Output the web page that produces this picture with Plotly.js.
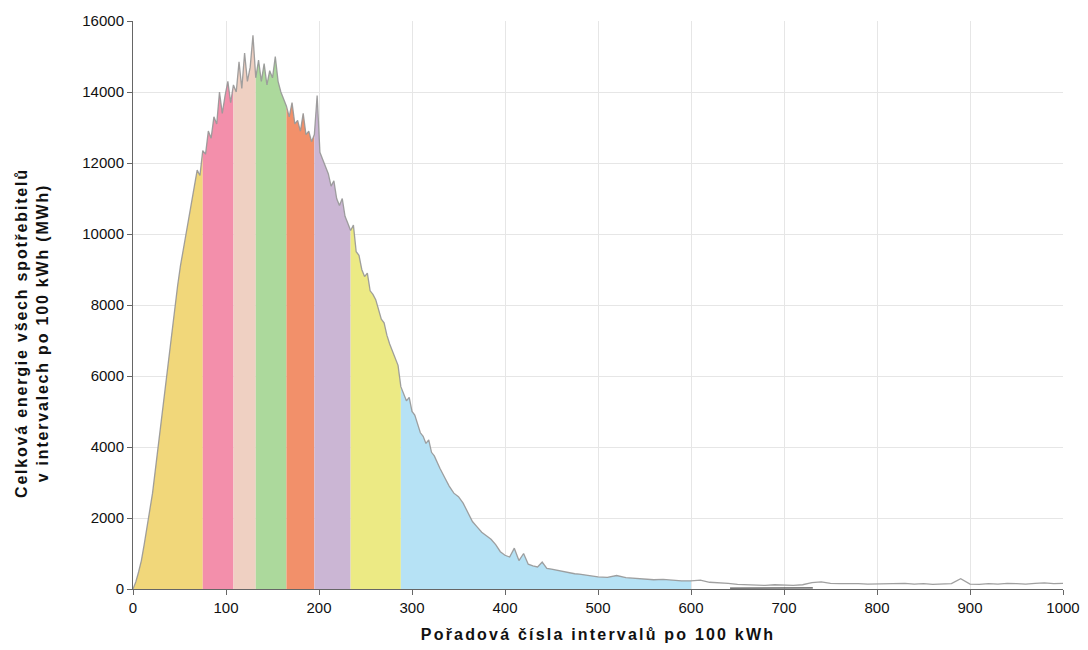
<!DOCTYPE html>
<html>
<head>
<meta charset="utf-8">
<script src="https://cdn.plot.ly/plotly-3.0.1.min.js"></script>
<style>
html,body{margin:0;padding:0;background:#fff;}
#chart{width:1088px;height:650px;}
text.xtitle{letter-spacing:2.2px;}
text.ytitle{letter-spacing:1.8px;}
</style>
</head>
<body>
<div id="chart"></div>
<script>
// Interval sequence numbers (x) and total energy in MWh (y)
const interval = [
  0,3,6,9,12,15,18,21,24,27,30,33,36,39,42,45,48,51,54,57,60,63,66,69,72,75,78,81,84,87,90,93,96,99,
  102,105,108,111,114,117,120,123,126,129,132,135,138,141,144,147,150,153,156,159,162,165,168,171,174,177,
  180,183,186,189,192,195,198,201,204,207,210,213,216,219,222,225,228,231,234,237,240,243,246,249,252,255,
  258,261,264,267,270,273,276,279,282,285,288,291,294,297,300,303,306,309,312,315,318,321,324,327,330,
  335,340,345,350,355,360,365,370,375,380,385,390,395,400,405,410,415,420,425,430,435,440,445,450,455,460,
  465,470,475,480,485,490,495,500,
  510,520,530,540,550,560,570,580,590,600,610,620,630,640,650,660,670,680,690,700,710,720,730,740,750,760,
  770,780,790,800,810,820,830,840,850,860,870,880,890,900,910,920,930,940,950,960,970,980,990,1000
];
const energy = [
  0,200,480,800,1250,1700,2150,2700,3350,4000,4700,5400,6100,6750,7350,8000,8550,9100,9600,10000,10450,10950,11350,11800,11650,12350,12250,12900,12700,13300,13100,14000,13400,13900,
  14300,13700,14200,14000,14850,14100,15100,14300,14700,15600,14400,14900,14300,14800,14200,14600,14400,15000,14300,14000,13800,13600,13300,13700,13100,13200,
  12900,13400,12800,12900,12600,12800,13900,12300,12100,11900,11700,11350,11500,11000,10800,11000,10500,10300,10100,10250,9500,9400,9000,8800,8900,8400,
  8300,8150,7900,7600,7500,7150,6900,6700,6450,6300,5700,5500,5300,5400,5000,4900,4650,4400,4300,4100,4200,3850,3750,3550,3400,
  3150,2900,2700,2600,2420,2150,1900,1750,1600,1500,1400,1250,1050,950,900,1150,800,1000,700,650,620,760,580,560,530,520,
  480,450,430,420,400,380,360,340,
  330,380,320,300,280,260,270,240,230,230,250,190,180,160,130,120,110,100,120,110,100,120,180,200,160,150,
  160,150,140,150,140,150,160,140,150,130,140,150,290,140,130,150,140,160,150,140,160,170,150,160
];
// Band boundaries (interval numbers) and fill colours
const bandEdges = [0,75,108,132,165,195,234,288,600];
const bandColors = ['#f1d77a','#f38fab','#efd0c2','#acd99c','#f2906a','#cbb6d4','#ecea84','#b6e2f5'];
// Small dark series lying on the axis
const darkX = [642,660,680,700,715,731];
const darkY = [25,30,20,35,25,30];

const traces = [];
for (let b = 0; b < bandColors.length; b++) {
  const lo = bandEdges[b], hi = bandEdges[b+1];
  const xs = [], ys = [];
  for (let i = 0; i < interval.length; i++) {
    if (interval[i] >= lo && interval[i] <= hi) { xs.push(interval[i]); ys.push(energy[i]); }
  }
  traces.push({x: xs, y: ys, type: 'scatter', mode: 'lines', fill: 'tozeroy',
    fillcolor: bandColors[b], line: {width: 0, color: bandColors[b]}, hoverinfo: 'skip', showlegend: false});
}
traces.push({x: interval, y: energy, type: 'scatter', mode: 'lines',
  line: {color: 'rgba(150,150,150,0.9)', width: 1.3}, showlegend: false});
traces.push({x: darkX, y: darkY, type: 'scatter', mode: 'lines',
  line: {color: '#222', width: 1}, showlegend: false});

const font = 'Liberation Sans, Arial, sans-serif';
const pad = '&nbsp;&nbsp;&nbsp;&nbsp;&nbsp;&nbsp;&nbsp;&nbsp;&nbsp;';
const layout = {
  width: 1088, height: 650,
  margin: {l: 133, r: 25, t: 21, b: 61},
  paper_bgcolor: '#fff', plot_bgcolor: '#fff',
  showlegend: false,
  font: {family: font, size: 15, color: '#111'},
  xaxis: {
    range: [0, 1000], dtick: 100, tick0: 0, tickformat: 'd',
    showgrid: true, gridcolor: '#e6e6e6', gridwidth: 1,
    showline: true, linecolor: '#666', linewidth: 1,
    ticks: 'outside', ticklen: 5, tickcolor: '#666',
    zeroline: false,
    tickfont: {family: font, size: 15, color: '#111'},
    title: {text: '<b>Pořadová čísla intervalů po 100 kWh</b>', font: {family: font, size: 16, color: '#111'}, standoff: 13}
  },
  yaxis: {
    range: [0, 16000], dtick: 2000, tick0: 0, tickformat: 'd',
    showgrid: true, gridcolor: '#e6e6e6', gridwidth: 1,
    showline: true, linecolor: '#666', linewidth: 1,
    ticks: 'outside', ticklen: 5, tickcolor: '#666',
    zeroline: false,
    tickfont: {family: font, size: 15, color: '#111'},
    title: {text: '<b>Celková energie všech spotřebitelů' + pad + '<br>v intervalech po 100 kWh (MWh)' + pad + '</b>', font: {family: font, size: 16, color: '#111'}, standoff: 29}
  }
};
Plotly.newPlot('chart', traces, layout, {displayModeBar: false, staticPlot: true});
</script>
</body>
</html>
